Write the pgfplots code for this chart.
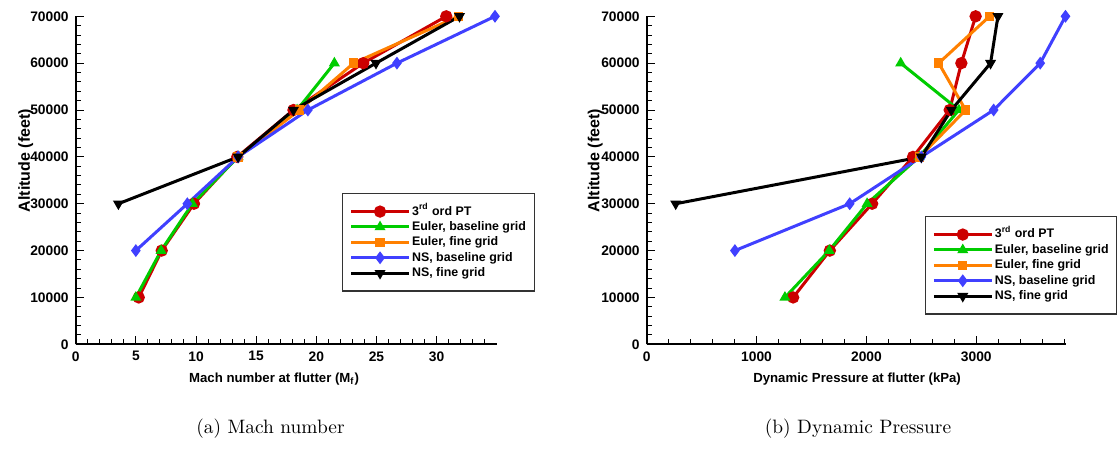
\documentclass[border=0pt]{standalone}
\usepackage{fontspec}
\usepackage{pgfplots}
\pgfplotsset{compat=1.18}
\newfontfamily\hv{Liberation Sans}
\definecolor{tpred}{RGB}{204,0,0}
\definecolor{tpgreen}{RGB}{0,204,0}
\definecolor{tporange}{RGB}{255,128,0}
\definecolor{tpblue}{RGB}{64,64,255}
\pgfplotsset{
  tp/.style={
    scale only axis, clip=false,
    axis x line=bottom, axis y line=left,
    axis line style={-, line width=1pt},
    tick align=inside,
    major tick length=4pt, minor tick length=2.5pt,
    every tick/.style={black, line width=0.5pt},
    ymin=0, ymax=70000, ytick={0,10000,...,70000},
    minor ytick={2000,4000,...,68000},
    scaled y ticks=false, scaled x ticks=false,
    /pgf/number format/assume math mode=true,
    /pgf/number format/set thousands separator={},
    tick label style={font=\hv\bfseries\fontsize{6.9}{7.5}\selectfont},
    xlabel style={font=\hv\bfseries\fontsize{6.6}{8}\selectfont, anchor=center},
    ylabel style={font=\hv\bfseries\fontsize{8}{9}\selectfont, anchor=center},
    legend cell align=left,
    legend style={draw=black!80, line width=0.7pt, fill=white,
      font=\hv\bfseries\fontsize{6.2}{7}\selectfont,
      inner xsep=3.5pt, inner ysep=5.2pt, row sep=0.3pt,
      nodes={inner sep=0.8pt, text height=4.6pt, text depth=1.2pt},
      /tikz/every even column/.append style={column sep=4.8pt}},
    legend image code/.code={\draw[mark repeat=2,mark phase=2,#1] plot coordinates {(0pt,0pt) (14.5pt,0pt) (29pt,0pt)};},
  },
  s1/.style={tpred, line width=1.5pt, mark=*, mark size=2.3pt, mark options={solid, fill=tpred}},
  s2/.style={tpgreen, line width=1.5pt, mark=triangle*, mark size=1.7pt, mark options={solid, fill=tpgreen}},
  s3/.style={tporange, line width=1.5pt, mark=square*, mark size=1.6pt, mark options={solid, fill=tporange}},
  s4/.style={tpblue, line width=1.5pt, mark=diamond*, mark size=2pt, mark options={solid, fill=tpblue}},
  s5/.style={black, line width=1.5pt, mark=triangle*, mark size=1.7pt, mark options={solid, fill=black, rotate=180}},
}
\begin{document}
\begin{tikzpicture}
\useasboundingbox (0pt,0pt) rectangle (558.5pt,228.5pt);
\begin{axis}[tp,
  at={(37.85pt,56.35pt)}, anchor=south west,
  width=210.55pt, height=164pt,
  xmin=0, xmax=35, xtick={0,5,...,30}, minor xtick={1,2,...,34},
  xlabel={Mach number at flutter (M\textsubscript{f})},
  ylabel={Altitude (feet)},
  xlabel style={at={(axis description cs:0.471,-0.1073)}},
  ylabel style={at={(axis description cs:-0.1187,0.56)}},
  legend style={at={(rel axis cs:0.632,0.461)}, anchor=north west},
]
\addplot[s1] coordinates {(5.24,10000)(7.15,20000)(9.83,30000)(13.43,40000)(18.1,50000)(23.9,60000)(30.8,70000)};
\addlegendentry{3\textsuperscript{rd} ord PT}
\addplot[s2] coordinates {(5.0,10000)(7.1,20000)(9.7,30000)(13.5,40000)(18.4,50000)(21.5,60000)};
\addlegendentry{Euler, baseline grid}
\addplot[s3] coordinates {(13.5,40000)(18.6,50000)(23.1,60000)(31.8,70000)};
\addlegendentry{Euler, fine grid}
\addplot[s4] coordinates {(5.0,20000)(9.28,30000)(13.5,40000)(19.3,50000)(26.7,60000)(34.85,70000)};
\addlegendentry{NS, baseline grid}
\addplot[s5] coordinates {(3.55,30000)(13.5,40000)(18.1,50000)(24.96,60000)(31.9,70000)};
\addlegendentry{NS, fine grid}
\end{axis}
\begin{axis}[tp,
  at={(323.35pt,56.35pt)}, anchor=south west,
  width=209.55pt, height=164pt,
  xmin=0, xmax=3815, xtick={0,1000,2000,3000}, minor xtick={200,400,...,3800},
  xlabel={Dynamic Pressure at flutter (kPa)},
  ylabel={Altitude (feet)},
  xlabel style={at={(axis description cs:0.502,-0.1073)}},
  ylabel style={at={(axis description cs:-0.1229,0.56)}},
  legend style={at={(rel axis cs:0.663,0.391)}, anchor=north west},
]
\addplot[s1] coordinates {(1333,10000)(1667,20000)(2052,30000)(2424,40000)(2758,50000)(2864,60000)(2994,70000)};
\addlegendentry{3\textsuperscript{rd} ord PT}
\addplot[s2] coordinates {(1258,10000)(1661,20000)(2006,30000)(2480,40000)(2842,50000)(2312,60000)};
\addlegendentry{Euler, baseline grid}
\addplot[s3] coordinates {(2485,40000)(2903,50000)(2658,60000)(3121,70000)};
\addlegendentry{Euler, fine grid}
\addplot[s4] coordinates {(803,20000)(1848,30000)(2500,40000)(3158,50000)(3582,60000)(3812,70000)};
\addlegendentry{NS, baseline grid}
\addplot[s5] coordinates {(264,30000)(2500,40000)(2773,50000)(3130,60000)(3197,70000)};
\addlegendentry{NS, fine grid}
\end{axis}
\node[font=\fontsize{9.7}{12}\selectfont] at (135.25pt,14.25pt) {(a) Mach number};
\node[font=\fontsize{9.7}{12}\selectfont] at (429pt,14.25pt) {(b) Dynamic Pressure};
\end{tikzpicture}
\end{document}
